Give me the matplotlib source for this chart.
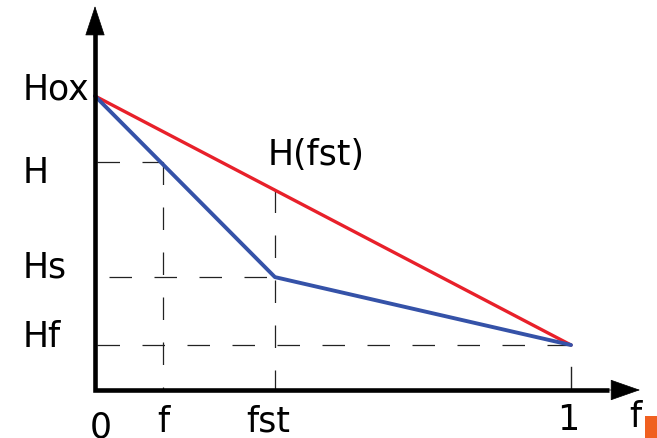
import matplotlib.pyplot as plt
from matplotlib.patches import Rectangle

# positions along the f axis (0..1) and H levels (Hox = 1)
f_ticks = [0.0, 0.143, 0.378, 1.0]
f_labels = ["0", "f", "fst", "1"]
H_levels = [1.0, 0.775, 0.384, 0.153]
H_labels = ["Hox", "H", "Hs", "Hf"]

red_f = [0.0, 1.0]
red_H = [1.0, 0.153]
blue_f = [0.0, 0.378, 1.0]
blue_H = [1.0, 0.384, 0.153]

plt.rcParams["font.family"] = ["DejaVu Sans"]

fig = plt.figure(figsize=(6.57, 4.39), dpi=100)
ax = fig.add_axes([0, 0, 1, 1])
ax.set_xlim(-95 / 476, 562 / 476)
ax.set_ylim(-48 / 294, 391 / 294)
ax.axis("off")

dash = dict(color="#222222", lw=0.9, linestyle=(0, (18, 18)))
f_, fst = f_ticks[1], f_ticks[2]
H, Hs, Hf = H_levels[1], H_levels[2], H_levels[3]
H_fst = red_H[0] + (red_H[1] - red_H[0]) * fst

# dashed guides
ax.plot([0.005, f_], [H, H], **dash)
ax.plot([f_, f_], [H, 0], **dash)
ax.plot([0.03, fst], [Hs, Hs], **dash)
ax.plot([fst, fst], [H_fst, 0], **dash)
ax.plot([0.005, 1.0], [Hf, Hf], **dash)
ax.plot([1.0, 1.0], [0.078, 0], color="#222222", lw=1)

# curves
ax.plot(red_f, red_H, color="#e8202a", lw=2.4, solid_capstyle="round")
ax.plot(blue_f, blue_H, color="#3552a8", lw=2.8, solid_capstyle="round",
        solid_joinstyle="round")

# axes with arrows
ax.plot([0, 0, 1.08], [1.25, 0, 0], color="black", lw=3.3,
        solid_joinstyle="miter", solid_capstyle="butt")
ax.annotate("", xy=(0, 1.306), xytext=(0, 1.2),
            arrowprops=dict(arrowstyle="-|>,head_length=1.0,head_width=0.33",
                            mutation_scale=20, color="black", lw=0.5,
                            shrinkA=0, shrinkB=0))
ax.annotate("", xy=(1.145, 0), xytext=(1.05, 0),
            arrowprops=dict(arrowstyle="-|>,head_length=1.0,head_width=0.35",
                            mutation_scale=20, color="black", lw=0.5,
                            shrinkA=0, shrinkB=0))

fs = 25
# y labels
ax.text(-0.153, (391 - 100) / 294, H_labels[0], fontsize=fs, ha="left", va="baseline")
ax.text(-0.153, (391 - 183) / 294, H_labels[1], fontsize=fs, ha="left", va="baseline")
ax.text(-0.153, (391 - 277) / 294, H_labels[2], fontsize=fs, ha="left", va="baseline")
ax.text(-0.153, (391 - 347) / 294, H_labels[3], fontsize=fs, ha="left", va="baseline")

# x labels
ax.text(0.012, -(438 - 391) / 294, f_labels[0], fontsize=fs, ha="center", va="baseline")
ax.text(f_, -(432 - 391) / 294, f_labels[1], fontsize=fs, ha="center", va="baseline")
ax.text(0.364, -(432 - 391) / 294, f_labels[2], fontsize=fs, ha="center", va="baseline")
ax.text(0.995, -(430 - 391) / 294, f_labels[3], fontsize=fs, ha="center", va="baseline")
ax.text((635 - 95) / 476, -(427 - 391) / 294, "f", fontsize=fs, ha="center", va="baseline")

ax.text((268 - 95) / 476, (391 - 165) / 294, "H(fst)", fontsize=fs, ha="left", va="baseline")

# small orange mark at the bottom right corner
ax.add_patch(Rectangle(((645 - 95) / 476, -(439 - 391) / 294), 12 / 476, 22 / 294,
                       color="#f06020", lw=0))

fig.savefig("out.png", dpi=100)
